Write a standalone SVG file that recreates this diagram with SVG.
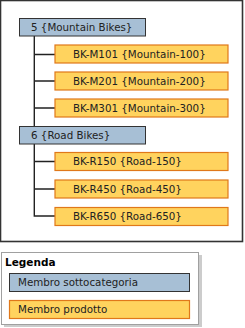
<svg xmlns="http://www.w3.org/2000/svg" width="245" height="328" viewBox="0 0 245 328">
<style>
text{font-family:"DejaVu Sans",Verdana,sans-serif;font-size:10.3px;fill:#222}
.cat{fill:#a7bfd5;stroke:#333;stroke-width:1}
.prod{fill:#ffd35e;stroke:#e0781a;stroke-width:1.2}
.conn{stroke:#222;stroke-width:1.4;fill:none}
.title{font-weight:bold;font-size:10.5px;fill:#000}
</style>
<rect x="0.5" y="0.5" width="242" height="241" fill="#fff" stroke="#333" stroke-width="1.6"/>
<g id="connectors">
<path class="conn" d="M34.3 36V126"/>
<path class="conn" d="M34.3 54.5H55M34.3 81H55M34.3 108H55"/>
<path class="conn" d="M34.3 144V216H55"/>
<path class="conn" d="M34.3 161.5H55M34.3 189H55"/>
</g>
<g id="cat5"><rect class="cat" x="19.5" y="18.5" width="126" height="17.5"/><text x="31" y="30.5">5 {Mountain Bikes}</text></g>
<g id="m101"><rect class="prod" x="55" y="45" width="173" height="18"/><text x="73" y="57.5">BK-M101 {Mountain-100}</text></g>
<g id="m201"><rect class="prod" x="55" y="72" width="173" height="18"/><text x="73" y="84.5">BK-M201 {Mountain-200}</text></g>
<g id="m301"><rect class="prod" x="55" y="99" width="173" height="18"/><text x="73" y="111.5">BK-M301 {Mountain-300}</text></g>
<g id="cat6"><rect class="cat" x="19.5" y="126.5" width="126" height="17.5"/><text x="31" y="138.5">6 {Road Bikes}</text></g>
<g id="r150"><rect class="prod" x="55" y="152.5" width="173" height="18"/><text x="73" y="165">BK-R150 {Road-150}</text></g>
<g id="r450"><rect class="prod" x="55" y="180" width="173" height="18"/><text x="73" y="192.5">BK-R450 {Road-450}</text></g>
<g id="r650"><rect class="prod" x="55" y="207.5" width="173" height="18"/><text x="73" y="220">BK-R650 {Road-650}</text></g>
<g id="legend">
<rect x="4" y="255" width="198" height="72" fill="#ccc"/>
<rect x="1.5" y="252.5" width="197" height="72" fill="#fff" stroke="#a0a0a0" stroke-width="1"/>
<text class="title" x="5" y="265.5">Legenda</text>
<rect class="cat" x="9.5" y="273.5" width="180" height="18"/>
<text x="18" y="286">Membro sottocategoria</text>
<rect class="prod" x="9.5" y="300.5" width="180" height="18"/>
<text x="18" y="313">Membro prodotto</text>
</g>
</svg>
